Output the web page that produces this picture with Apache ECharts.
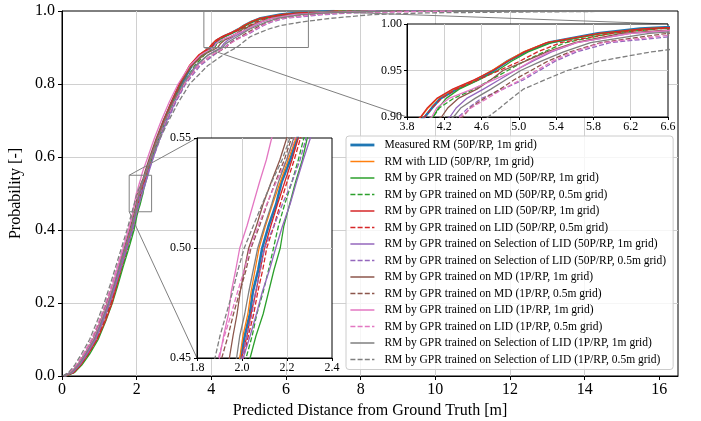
<!DOCTYPE html>
<html><head><meta charset="utf-8">
<script src="https://cdn.jsdelivr.net/npm/echarts@6/dist/echarts.min.js"></script>
<style>html,body{margin:0;padding:0;background:#fff}#c{width:701px;height:421px}</style>
</head><body><div id="c"></div><script>
// probability levels (shared y values of every empirical CDF)
const probs = [0, 0.01, 0.03, 0.06, 0.1, 0.15, 0.2, 0.25, 0.3, 0.35, 0.4, 0.44,
  0.45, 0.46, 0.47, 0.48, 0.49, 0.5, 0.51, 0.52, 0.53, 0.54, 0.55, 0.56,
  0.6, 0.65, 0.7, 0.75, 0.8, 0.85, 0.88,
  0.9, 0.91, 0.92, 0.93, 0.94, 0.95, 0.96, 0.97, 0.98, 0.99, 0.995, 1.0];

// distance [m] reached at each probability level, per series
const measured50_1m = [0.06,0.27,0.45,0.64,0.88,1.08,1.27,1.42,1.56,1.71,1.86,1.97,
  1.994,2.012,2.035,2.048,2.072,2.09,2.118,2.152,2.176,2.214,2.246,2.27,
  2.40,2.57,2.76,2.97,3.20,3.47,3.72,
  3.99,4.07,4.16,4.33,4.55,4.73,4.88,5.07,5.32,5.85,6.30,7.30];
const lid50_1m = [0.07,0.28,0.46,0.66,0.90,1.10,1.29,1.44,1.58,1.72,1.86,1.96,
  1.99,2.004,2.026,2.04,2.058,2.076,2.104,2.136,2.17,2.205,2.24,2.262,
  2.39,2.55,2.73,2.93,3.15,3.42,3.68,
  3.95,4.03,4.13,4.30,4.53,4.71,4.87,5.05,5.30,5.88,6.40,7.50];
const gprMd50_1m = [0.12,0.34,0.53,0.74,0.97,1.17,1.35,1.50,1.64,1.79,1.93,2.01,
  2.036,2.062,2.094,2.118,2.142,2.17,2.186,2.212,2.238,2.268,2.29,2.315,
  2.43,2.58,2.76,2.96,3.18,3.46,3.76,
  4.08,4.14,4.22,4.36,4.57,4.77,4.92,5.10,5.35,5.90,6.35,7.60];
const gprMd50_05m = [0.10,0.33,0.51,0.72,0.95,1.14,1.32,1.48,1.62,1.77,1.91,1.99,
  2.018,2.045,2.066,2.094,2.118,2.14,2.162,2.19,2.222,2.25,2.275,2.30,
  2.43,2.60,2.80,3.01,3.25,3.55,3.82,
  4.08,4.15,4.30,4.52,4.70,4.88,5.06,5.27,5.50,6.00,6.50,8.00];
const gprLid50_1m = [0.10,0.32,0.50,0.70,0.94,1.16,1.34,1.47,1.60,1.74,1.88,1.97,
  1.998,2.022,2.04,2.062,2.08,2.10,2.128,2.158,2.19,2.222,2.25,2.272,
  2.39,2.54,2.72,2.92,3.14,3.41,3.67,
  3.947,4.02,4.12,4.29,4.52,4.72,4.88,5.06,5.30,5.86,6.35,7.40];
const gprLid50_05m = [0.09,0.31,0.49,0.69,0.92,1.12,1.30,1.45,1.59,1.74,1.88,1.98,
  2.006,2.028,2.052,2.07,2.092,2.11,2.142,2.17,2.20,2.232,2.26,2.282,
  2.41,2.56,2.74,2.95,3.18,3.46,3.72,
  3.99,4.07,4.17,4.33,4.56,4.79,5.01,5.20,5.45,6.00,6.50,7.80];
const gprSel50_1m = [0.07,0.29,0.47,0.67,0.90,1.10,1.28,1.44,1.59,1.74,1.89,1.98,
  2.005,2.036,2.064,2.09,2.122,2.15,2.18,2.214,2.242,2.272,2.304,2.33,
  2.45,2.62,2.81,3.03,3.28,3.60,3.92,
  4.26,4.33,4.44,4.62,4.79,4.96,5.15,5.35,5.62,6.20,6.90,8.50];
const gprSel50_05m = [0.06,0.27,0.45,0.65,0.88,1.08,1.26,1.42,1.57,1.72,1.87,1.97,
  2.0,2.022,2.044,2.06,2.082,2.10,2.142,2.18,2.222,2.258,2.285,2.31,
  2.45,2.63,2.83,3.05,3.31,3.70,4.08,
  4.35,4.46,4.60,4.83,5.05,5.22,5.39,5.62,5.98,7.00,7.80,9.50];
const gprMd1_1m = [0.05,0.24,0.42,0.60,0.83,1.03,1.21,1.37,1.51,1.66,1.81,1.92,
  1.944,1.96,1.978,1.992,2.01,2.03,2.064,2.094,2.13,2.168,2.199,2.222,
  2.35,2.52,2.71,2.93,3.17,3.48,3.80,
  4.17,4.24,4.35,4.55,4.70,4.83,5.07,5.30,5.60,6.10,6.80,8.20];
const gprMd1_05m = [0.04,0.22,0.40,0.58,0.80,1.00,1.18,1.34,1.49,1.64,1.79,1.89,
  1.91,1.938,1.962,1.99,2.018,2.04,2.078,2.112,2.148,2.188,2.22,2.25,
  2.39,2.57,2.78,3.01,3.28,3.65,4.02,
  4.40,4.48,4.63,4.80,4.95,5.13,5.31,5.55,5.88,6.60,7.40,9.20];
const gprLid1_1m = [0.05,0.25,0.43,0.61,0.84,1.04,1.22,1.37,1.50,1.64,1.78,1.88,
  1.90,1.918,1.94,1.952,1.972,1.99,2.022,2.05,2.078,2.108,2.132,2.16,
  2.30,2.47,2.66,2.87,3.11,3.42,3.72,
  4.065,4.12,4.25,4.50,4.73,4.96,5.13,5.33,5.62,6.20,6.90,8.40];
const gprLid1_05m = [0.03,0.20,0.38,0.57,0.79,0.99,1.17,1.33,1.48,1.63,1.78,1.87,
  1.895,1.922,1.952,1.98,2.01,2.036,2.072,2.11,2.152,2.198,2.235,2.26,
  2.39,2.57,2.78,3.01,3.28,3.65,4.02,
  4.37,4.49,4.66,4.83,5.02,5.19,5.36,5.58,5.90,6.80,7.60,10.50];
const gprSel1_1m = [0.06,0.26,0.44,0.63,0.86,1.06,1.24,1.40,1.54,1.69,1.84,1.95,
  1.976,1.99,2.012,2.03,2.05,2.07,2.10,2.132,2.162,2.198,2.23,2.26,
  2.39,2.56,2.76,2.98,3.24,3.57,3.92,
  4.30,4.38,4.53,4.70,4.86,5.02,5.24,5.48,5.77,6.40,7.10,8.80];
const gprSel1_05m = [0.02,0.18,0.34,0.52,0.74,0.94,1.13,1.29,1.44,1.59,1.74,1.85,
  1.88,1.902,1.93,1.958,1.982,2.01,2.05,2.09,2.132,2.178,2.213,2.25,
  2.41,2.62,2.86,3.12,3.42,3.90,4.32,
  4.67,4.80,4.92,5.05,5.28,5.52,5.86,6.42,7.20,8.30,9.80,15.70];

const seriesNames = [
  'Measured RM (50P/RP, 1m grid)',
  'RM with LID (50P/RP, 1m grid)',
  'RM by GPR trained on MD (50P/RP, 1m grid)',
  'RM by GPR trained on MD (50P/RP, 0.5m grid)',
  'RM by GPR trained on LID (50P/RP, 1m grid)',
  'RM by GPR trained on LID (50P/RP, 0.5m grid)',
  'RM by GPR trained on Selection of LID (50P/RP, 1m grid)',
  'RM by GPR trained on Selection of LID (50P/RP, 0.5m grid)',
  'RM by GPR trained on MD (1P/RP, 1m grid)',
  'RM by GPR trained on MD (1P/RP, 0.5m grid)',
  'RM by GPR trained on LID (1P/RP, 1m grid)',
  'RM by GPR trained on LID (1P/RP, 0.5m grid)',
  'RM by GPR trained on Selection of LID (1P/RP, 1m grid)',
  'RM by GPR trained on Selection of LID (1P/RP, 0.5m grid)'
];
const seriesValues = [measured50_1m, lid50_1m, gprMd50_1m, gprMd50_05m, gprLid50_1m, gprLid50_05m,
  gprSel50_1m, gprSel50_05m, gprMd1_1m, gprMd1_05m, gprLid1_1m, gprLid1_05m, gprSel1_1m, gprSel1_05m];

// ticks and zoom windows
const xTicksMain = [0, 2, 4, 6, 8, 10, 12, 14, 16];
const mainX = [0, 16.5], mainY = [0, 1];
const inset1X = [3.8, 6.6], inset1Y = [0.9, 1.0];
const inset2X = [1.8, 2.4], inset2Y = [0.45, 0.55];

// styles
const colors = ['#1f77b4','#ff7f0e','#2ca02c','#2ca02c','#d62728','#d62728','#9467bd','#9467bd',
  '#8c564b','#8c564b','#e377c2','#e377c2','#7f7f7f','#7f7f7f'];
const dashed = [false,false,false,true,false,true,false,true,false,true,false,true,false,true];
const widths = [2.6,1.3,1.3,1.3,1.3,1.3,1.3,1.3,1.3,1.3,1.3,1.3,1.3,1.3];
const DASH = [5, 2.2];

const FONT = '"Liberation Serif", "Times New Roman", serif';
const GRIDC = '#d0d0d0';

const chart = echarts.init(document.getElementById('c'), null, {renderer: 'canvas'});

const grids = [
  {left: 62, top: 11, width: 616, height: 365, z: 0},
  {left: 407, top: 24, width: 261, height: 93, z: 4},
  {left: 197, top: 138, width: 135, height: 220, z: 4}
].map(g => Object.assign({show: true, backgroundColor: '#fff', borderColor: '#000', borderWidth: 1,
  containLabel: false, outerBoundsMode: 'none'}, g));

function mkAxis(gi, range, interval, dec, fs, margin, z, extra) {
  return Object.assign({
    gridIndex: gi, type: 'value', min: range[0], max: range[1], interval: interval, z: z,
    axisLine: {show: true, onZero: false, lineStyle: {color: '#000', width: 1}},
    axisTick: {show: true, length: gi === 0 ? 4 : 3, lineStyle: {color: '#000', width: 1}},
    axisLabel: {fontFamily: FONT, fontSize: fs, color: '#000', margin: margin,
      formatter: v => Number(v).toFixed(dec)},
    splitLine: {show: true, showMinLine: false, showMaxLine: false, lineStyle: {color: GRIDC, width: 1}}
  }, extra || {});
}

const xAxes = [
  mkAxis(0, mainX, 2, 0, 16, 6, 1, {
    name: 'Predicted Distance from Ground Truth [m]', nameLocation: 'middle', nameGap: 25,
    nameTextStyle: {fontFamily: FONT, fontSize: 16, color: '#000'}}),
  mkAxis(1, inset1X, 0.4, 1, 12, 4, 5),
  mkAxis(2, inset2X, 0.2, 1, 12, 4, 5)
];
xAxes[0].axisTick.customValues = xTicksMain;
xAxes[0].axisLabel.customValues = xTicksMain;

const yAxes = [
  mkAxis(0, mainY, 0.2, 1, 16, 7, 1, {
    name: 'Probability [-]', nameLocation: 'middle', nameGap: 31, nameRotate: 90,
    nameTextStyle: {fontFamily: FONT, fontSize: 16, color: '#000'}}),
  mkAxis(1, inset1Y, 0.05, 2, 12, 5, 5),
  mkAxis(2, inset2Y, 0.05, 2, 12, 6, 5)
];

const series = [];
[0, 1, 2].forEach(gi => {
  seriesValues.forEach((vals, si) => {
    series.push({
      type: 'line', name: seriesNames[si], xAxisIndex: gi, yAxisIndex: gi,
      data: vals.map((x, k) => [x, probs[k]]),
      symbol: 'none', showSymbol: false, clip: true, silent: true,
      z: gi === 0 ? 2 : 6,
      color: colors[si],
      lineStyle: {color: colors[si], width: widths[si], type: dashed[si] ? DASH : 'solid'},
      itemStyle: {color: colors[si]},
      emphasis: {disabled: true}
    });
  });
});

const option = {
  animation: false,
  backgroundColor: '#fff',
  textStyle: {fontFamily: FONT},
  grid: grids,
  xAxis: xAxes,
  yAxis: yAxes,
  legend: {
    orient: 'vertical', left: 346, top: 136, z: 10,
    data: seriesNames.map((n, i) => ({
      name: n,
      itemStyle: {opacity: 0, color: 'rgba(0,0,0,0)', borderColor: 'rgba(0,0,0,0)', borderWidth: 0},
      lineStyle: {color: colors[i], width: widths[i] + 0.2, type: dashed[i] ? DASH : 'solid', opacity: 1}
    })),
    selectedMode: false,
    itemWidth: 24, itemHeight: 11, itemGap: 4.5,
    padding: [3, 7, 4, 3],
    backgroundColor: 'rgba(255,255,255,0.8)', borderColor: '#cccccc', borderWidth: 1, borderRadius: 3,
    itemStyle: {opacity: 0, color: 'rgba(0,0,0,0)', borderColor: 'rgba(0,0,0,0)', borderWidth: 0},
    textStyle: {fontFamily: FONT, fontSize: 11.5, color: '#000', padding: [0, 0, 0, 5]}
  },
  series: series
};
chart.setOption(option);

// zoom-window rectangles and connector lines (computed from data coordinates)
const P = (g, pt) => chart.convertToPixel({gridIndex: g}, pt);
const EDGE = '#808080';
function seg(a, b) {
  return {type: 'line', z: 3, silent: true, shape: {x1: a[0], y1: a[1], x2: b[0], y2: b[1]},
    style: {stroke: EDGE, lineWidth: 1}};
}
function box(a, b) {
  return {type: 'rect', z: 3, silent: true,
    shape: {x: Math.min(a[0], b[0]), y: Math.min(a[1], b[1]), width: Math.abs(b[0] - a[0]), height: Math.abs(b[1] - a[1])},
    style: {fill: 'none', stroke: EDGE, lineWidth: 1}};
}
const r1ll = P(0, [inset1X[0], inset1Y[0]]), r1ur = P(0, [inset1X[1], inset1Y[1]]);
const i1ll = P(1, [inset1X[0], inset1Y[0]]), i1ur = P(1, [inset1X[1], inset1Y[1]]);
const r2ul = P(0, [inset2X[0], inset2Y[1]]), r2ll = P(0, [inset2X[0], inset2Y[0]]), r2ur = P(0, [inset2X[1], inset2Y[1]]);
const i2ul = P(2, [inset2X[0], inset2Y[1]]), i2ll = P(2, [inset2X[0], inset2Y[0]]);
chart.setOption({graphic: {elements: [
  box(r1ll, r1ur), seg(r1ll, i1ll), seg(r1ur, i1ur),
  box(r2ll, r2ur), seg(r2ul, i2ul), seg(r2ll, i2ll)
]}});
</script></body></html>
